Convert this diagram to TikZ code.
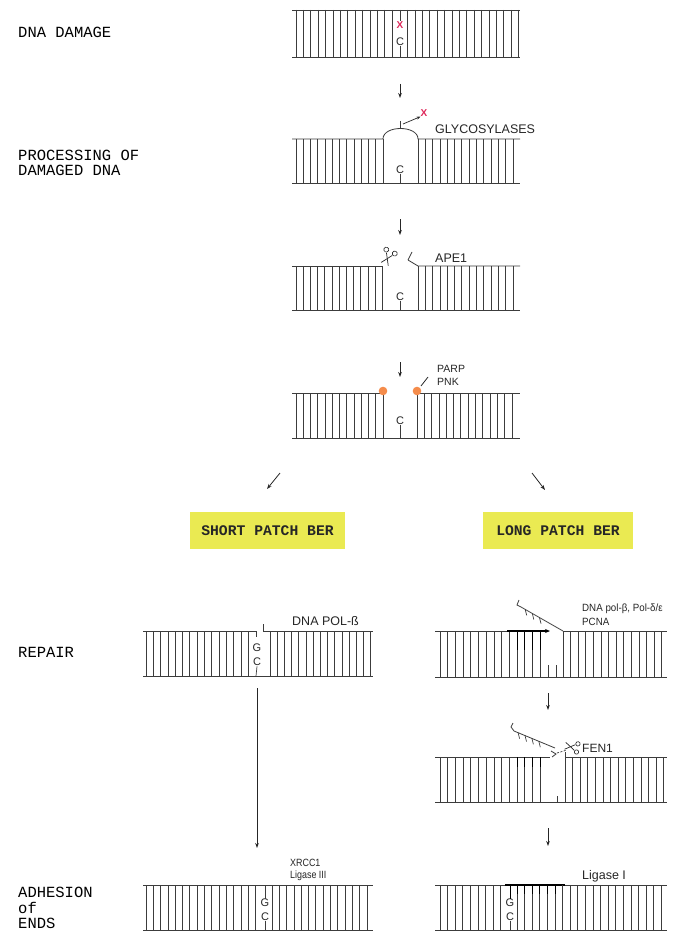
\documentclass[tikz,border=0pt]{standalone}
\usepackage{fontspec}
\setmainfont{Liberation Sans}
\newfontfamily\monofam{Liberation Mono}
\usetikzlibrary{arrows.meta}

\definecolor{strandgray}{RGB}{60,60,60}
\definecolor{patchyellow}{RGB}{234,234,82}
\definecolor{lesionred}{RGB}{222,40,90}
\definecolor{caporange}{RGB}{245,140,75}

\tikzset{
  bb/.style={draw=strandgray, line width=0.8pt},
  rg/.style={draw=strandgray, line width=0.7pt},
  newrg/.style={draw=black, line width=1.0pt},
  stagetxt/.style={font=\monofam\fontsize{15.5}{16}\selectfont, anchor=base west, inner sep=0, text=black},
  enz/.style={font=\fontsize{12.5}{13}\selectfont, anchor=base west, inner sep=0, text=black!85},
  enzsm/.style={font=\fontsize{10.5}{11}\selectfont, anchor=base west, inner sep=0, text=black!85},
  basetxt/.style={font=\fontsize{11}{11}\selectfont, inner sep=0.3pt, text=black!85},
  lesion/.style={font=\bfseries\fontsize{10}{10}\selectfont, inner sep=0, text=lesionred},
  flow/.style={-{Stealth[length=5pt,width=3.6pt]}, line width=0.8pt, draw=black!85},
  patch/.style={fill=patchyellow, font=\monofam\bfseries\fontsize{14.7}{15}\selectfont, minimum height=37pt, inner sep=0, text=black!85},
  shears/.pic={
    \draw[line width=0.7pt, black!85] (-2.5,-2.5) -- (3,6);
    \draw[line width=0.7pt, black!85] (2.5,-2.5) -- (-3,6);
    \draw[line width=0.6pt, black!85] (-3.6,-4.6) circle[radius=1.9];
    \draw[line width=0.6pt, black!85] (3.6,-4.6) circle[radius=1.9];
  }
}

\begin{document}
\begin{tikzpicture}[x=1pt,y=-1pt]
\useasboundingbox[fill=white] (0,0) rectangle (689,931);

% ---------- stage labels ----------
\node[stagetxt] (lbldmg) at (18,38) {DNA DAMAGE};
\node[stagetxt] (lblproca) at (18,160) {PROCESSING OF};
\node[stagetxt] (lblprocb) at (18,175) {DAMAGED DNA};
\node[stagetxt] (lblrep) at (18,657) {REPAIR};
\node[stagetxt] (lbladha) at (18,897) {ADHESION};
\node[stagetxt] (lbladhb) at (18,913) {of};
\node[stagetxt] (lbladhc) at (18,928) {ENDS};

% ---------- 1: damaged duplex ----------
\draw[bb] (292,10) -- (520,10);
\draw[bb] (292,57) -- (520,57);
\foreach \x in {296,303.4,...,393} \draw[rg] (\x,10) -- (\x,57);
\foreach \x in {407.6,415,...,519} \draw[rg] (\x,10) -- (\x,57);
\node[lesion] (dmgx) at (400,25) {X};
\node[basetxt] (dmgc) at (400,42) {C};
\draw[rg] (400,10) -- (dmgx.north);
\draw[rg] (dmgc.south) -- (400,57);

\coordinate (fa1) at (400,84); \coordinate (fa2) at (400,98);
\draw[flow] (fa1) -- (fa2);

% ---------- 2: base excision by glycosylases ----------
\draw[bb] (292,139) -- (383,139) .. controls (383,125) and (418,125) .. (418,139) -- (520,139);
\draw[bb] (292,183) -- (520,183);
\foreach \x in {296,303.25,...,384} \draw[rg] (\x,139) -- (\x,183);
\foreach \x in {418,425.3,...,519} \draw[rg] (\x,139) -- (\x,183);
\node[basetxt] (glyc) at (400,170) {C};
\draw[rg] (glyc.south) -- (400,183);
\draw[rg] (400,121) -- (400,128);
\node[lesion] (glyx) at (424,113) {X};
\coordinate (glyo) at (403,124);
\draw[-{Stealth[length=4pt,width=3pt]}, line width=0.7pt, black!85] (glyo) -- (glyx.south west);
\node[enz] (glylbl) at (435,133) {GLYCOSYLASES};

\coordinate (fb1) at (400,219); \coordinate (fb2) at (400,235);
\draw[flow] (fb1) -- (fb2);

% ---------- 3: APE1 incision ----------
\draw[bb] (292,266) -- (382,266);
\draw[bb] (408,260) -- (418,266) -- (520,266);
\draw[bb] (412,252) -- (408,260);
\draw[bb] (292,310) -- (520,310);
\foreach \x in {296,303.2,...,383} \draw[rg] (\x,266) -- (\x,310);
\foreach \x in {418,425.3,...,519} \draw[rg] (\x,266) -- (\x,310);
\node[basetxt] (apec) at (400,297) {C};
\draw[rg] (apec.south) -- (400,310);
\pic[rotate=-25, scale=1.3] at (388,257) {shears};
\node[enz] (apelbl) at (435,262) {APE1};

\coordinate (fc1) at (400,362); \coordinate (fc2) at (400,377);
\draw[flow] (fc1) -- (fc2);

% ---------- 4: end processing (PARP / PNK) ----------
\draw[bb] (292,393) -- (383,393);
\draw[bb] (417,393) -- (520,393);
\draw[bb] (292,438) -- (520,438);
\foreach \x in {296,303.25,...,384} \draw[rg] (\x,393) -- (\x,438);
\foreach \x in {417,424.3,...,519} \draw[rg] (\x,393) -- (\x,438);
\fill[caporange] (383,391) circle[radius=4.3];
\fill[caporange] (417,391) circle[radius=4.3];
\node[basetxt] (parc) at (400,421) {C};
\draw[rg] (parc.south) -- (400,438);
\node[enzsm] (parplbl) at (437,372) {PARP};
\node[enzsm] (pnklbl) at (437,385) {PNK};
\coordinate (pnkp) at (421,386);
\draw[line width=0.8pt, black!85] (pnkp) -- (428,377);

% ---------- branch into the two sub-pathways ----------
\node[patch, minimum width=155pt] (spbox) at (267.5,530.5) {SHORT PATCH BER};
\node[patch, minimum width=150pt] (lpbox) at (558,530.5) {LONG PATCH BER};
\coordinate (bl1) at (280,473); \coordinate (bl2) at (267,489);
\coordinate (br1) at (532,473); \coordinate (br2) at (545,490);
\draw[flow] (bl1) -- (bl2);
\draw[flow] (br1) -- (br2);

% ---------- 5a: short patch repair synthesis ----------
\draw[bb] (143,631) -- (256,631) -- (256,637);
\draw[bb] (263,624) -- (263,631) -- (373,631);
\draw[bb] (143,676) -- (373,676);
\foreach \x in {146,153.3,...,249} \draw[rg] (\x,631) -- (\x,676);
\foreach \x in {270,277.2,...,371} \draw[rg] (\x,631) -- (\x,676);
\node[basetxt] (spg) at (257,648) {G};
\node[basetxt] (spc) at (257,662) {C};
\draw[rg] (spc.south) -- (256,676);
\node[enz] (pollbl) at (292,625) {DNA POL-ß};

\coordinate (fl1) at (257,688); \coordinate (fl2) at (257,848);
\draw[flow] (fl1) -- (fl2);

% ---------- 5b: long patch strand displacement ----------
\draw[bb] (435,631) -- (548,631);
\draw[bb] (563,631) -- (667,631);
\draw[bb] (435,677) -- (667,677);
\foreach \x in {440,447.7,...,514} \draw[rg] (\x,631) -- (\x,677);
\foreach \x in {517,524.7,...,546} {
  \draw[rg] (\x,631) -- (\x,677);
  \draw[newrg] (\x,631) -- (\x,650);
}
\foreach \x in {563,570.6,...,666} \draw[rg] (\x,631) -- (\x,677);
\draw[-{Stealth[length=5pt,width=4pt]}, line width=1.1pt, black] (507,631) -- (550,631);
\draw[rg] (548,665) -- (548,677);
\draw[rg] (556,665) -- (556,677);
\draw[bb] (563,631) -- (521,607) -- (517,605) -- (519,600);
\foreach \px/\py in {525.2/609.4, 532.3/613.5, 539.5/617.6}
  \draw[rg] (\px,\py) -- ++(1.5,6);
\node[enzsm, font=\fontsize{10.5}{11}\selectfont, xscale=0.93, transform shape] (lplbla) at (582,611) {DNA pol-β, Pol-δ/ε};
\node[enzsm, font=\fontsize{10.5}{11}\selectfont, xscale=0.93, transform shape] (lplblb) at (582,625) {PCNA};

\coordinate (fr1) at (548,693); \coordinate (fr2) at (548,710);
\draw[flow] (fr1) -- (fr2);

% ---------- 6b: flap removal by FEN1 ----------
\draw[bb] (435,757) -- (550,757);
\draw[bb] (565,757) -- (667,757);
\draw[bb] (435,802) -- (667,802);
\foreach \x in {440,447.7,...,514} \draw[rg] (\x,757) -- (\x,802);
\foreach \x in {517,524.7,...,546} {
  \draw[rg] (\x,757) -- (\x,802);
  \draw[newrg] (\x,757) -- (\x,767);
}
\draw[rg] (565,752) -- (565,802);
\foreach \x in {572.6,580.2,...,666} \draw[rg] (\x,757) -- (\x,802);
\draw[rg] (557,796) -- (557,802);
\draw[bb] (555,748) -- (514,731) -- (511,727) -- (513,723);
\foreach \px/\py in {518.1/732.7, 525/735.5, 531.9/738.4, 538.8/741.2}
  \draw[rg] (\px,\py) -- ++(1.5,6);
\draw[bb] (551,751) -- (556,754) -- (552,757);
\draw[rg, dashed, dash pattern=on 2pt off 1.5pt] (557,753) -- (567,750);
\pic[rotate=-100, scale=1.15] at (572,747) {shears};
\node[enz, font=\fontsize{12}{12}\selectfont] (fenlbl) at (582,752) {FEN1};

\coordinate (fs1) at (548,828); \coordinate (fs2) at (548,846);
\draw[flow] (fs1) -- (fs2);

% ---------- 7a: ligation, short patch ----------
\draw[bb] (143,885) -- (373,885);
\draw[bb] (143,930) -- (373,930);
\foreach \x in {146,153.3,...,259} \draw[rg] (\x,885) -- (\x,930);
\foreach \x in {272,279.3,...,371} \draw[rg] (\x,885) -- (\x,930);
\node[basetxt] (lsg) at (265,903) {G};
\node[basetxt] (lsc) at (265,917) {C};
\draw[rg] (265,885) -- (lsg.north);
\draw[rg] (lsc.south) -- (265,930);
\node[enzsm, xscale=0.85, transform shape] (xrlbl) at (290,866) {XRCC1};
\node[enzsm, xscale=0.85, transform shape] (lig3lbl) at (290,878) {Ligase III};

% ---------- 7b: ligation, long patch ----------
\draw[bb] (435,885) -- (667,885);
\draw[line width=1.2pt, black] (505,885) -- (565,885);
\draw[bb] (435,930) -- (667,930);
\foreach \x in {440,447.6,...,504} \draw[rg] (\x,885) -- (\x,930);
\foreach \x in {517,524.6,...,666} \draw[rg] (\x,885) -- (\x,930);
\foreach \x in {517,524.6,...,561} \draw[newrg] (\x,885) -- (\x,894);
\node[basetxt] (llg) at (510,903) {G};
\node[basetxt] (llc) at (510,917) {C};
\draw[newrg] (510,885) -- (llg.north);
\draw[rg] (llc.south) -- (510,930);
\node[enz] (lig1lbl) at (582,879) {Ligase I};

\end{tikzpicture}
\end{document}
